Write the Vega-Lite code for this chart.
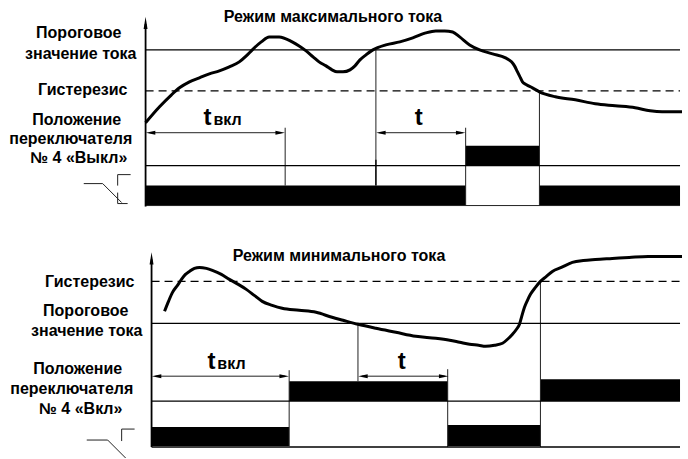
{
  "$schema": "https://vega.github.io/schema/vega-lite/v6.json",
  "width": 688,
  "height": 459,
  "autosize": {"type": "fit", "contains": "padding"},
  "padding": 0,
  "background": "white",
  "config": {"view": {"stroke": null}},
  "datasets": {
    "curve": [
      {"s":"max","t":146,"i":123},{"s":"max","t":160,"i":107},{"s":"max","t":172,"i":95},{"s":"max","t":180,"i":88},{"s":"max","t":190,"i":82},{"s":"max","t":200,"i":78},{"s":"max","t":210,"i":74},{"s":"max","t":220,"i":71},{"s":"max","t":230,"i":67},{"s":"max","t":240,"i":62},{"s":"max","t":247,"i":56},{"s":"max","t":253,"i":50},{"s":"max","t":262,"i":42},{"s":"max","t":270,"i":37},{"s":"max","t":280,"i":37},{"s":"max","t":293,"i":42},{"s":"max","t":300,"i":46},{"s":"max","t":307,"i":51},{"s":"max","t":314,"i":57},{"s":"max","t":320,"i":62},{"s":"max","t":327,"i":66},{"s":"max","t":333,"i":70},{"s":"max","t":338,"i":72},{"s":"max","t":344,"i":72},{"s":"max","t":351,"i":70},{"s":"max","t":356,"i":66},{"s":"max","t":361,"i":60},{"s":"max","t":367,"i":55},{"s":"max","t":374,"i":50},{"s":"max","t":387,"i":45},{"s":"max","t":401,"i":42},{"s":"max","t":414,"i":38},{"s":"max","t":427,"i":33},{"s":"max","t":437,"i":31},{"s":"max","t":446,"i":31},{"s":"max","t":454,"i":32},{"s":"max","t":461,"i":37},{"s":"max","t":471,"i":45},{"s":"max","t":481,"i":50},{"s":"max","t":494,"i":54},{"s":"max","t":507,"i":58},{"s":"max","t":513,"i":62},{"s":"max","t":516,"i":66},{"s":"max","t":519,"i":72},{"s":"max","t":521,"i":76},{"s":"max","t":524,"i":82},{"s":"max","t":528,"i":85},{"s":"max","t":534,"i":88},{"s":"max","t":541,"i":92},{"s":"max","t":557,"i":97},{"s":"max","t":577,"i":100},{"s":"max","t":597,"i":104},{"s":"max","t":617,"i":106},{"s":"max","t":637,"i":108},{"s":"max","t":652,"i":111},{"s":"max","t":664,"i":112},{"s":"max","t":684,"i":112},
      {"s":"min","t":165,"i":312},{"s":"min","t":169,"i":302},{"s":"min","t":173,"i":293},{"s":"min","t":178,"i":286},{"s":"min","t":182,"i":280},{"s":"min","t":186,"i":275},{"s":"min","t":190,"i":272},{"s":"min","t":195,"i":269},{"s":"min","t":200,"i":268},{"s":"min","t":207,"i":269},{"s":"min","t":213,"i":271},{"s":"min","t":222,"i":275},{"s":"min","t":230,"i":280},{"s":"min","t":239,"i":285},{"s":"min","t":247,"i":290},{"s":"min","t":255,"i":296},{"s":"min","t":263,"i":302},{"s":"min","t":273,"i":306},{"s":"min","t":283,"i":309},{"s":"min","t":300,"i":311},{"s":"min","t":317,"i":313},{"s":"min","t":333,"i":318},{"s":"min","t":344,"i":321},{"s":"min","t":359,"i":325},{"s":"min","t":377,"i":329},{"s":"min","t":397,"i":333},{"s":"min","t":417,"i":337},{"s":"min","t":437,"i":339},{"s":"min","t":451,"i":341},{"s":"min","t":461,"i":343},{"s":"min","t":471,"i":345},{"s":"min","t":480,"i":346},{"s":"min","t":487,"i":347},{"s":"min","t":496,"i":346},{"s":"min","t":504,"i":344},{"s":"min","t":509,"i":340},{"s":"min","t":514,"i":335},{"s":"min","t":518,"i":330},{"s":"min","t":521,"i":325},{"s":"min","t":523,"i":318},{"s":"min","t":526,"i":308},{"s":"min","t":529,"i":301},{"s":"min","t":532,"i":295},{"s":"min","t":537,"i":288},{"s":"min","t":542,"i":282},{"s":"min","t":548,"i":277},{"s":"min","t":554,"i":272},{"s":"min","t":563,"i":268},{"s":"min","t":574,"i":263},{"s":"min","t":585,"i":261},{"s":"min","t":597,"i":260},{"s":"min","t":614,"i":259},{"s":"min","t":631,"i":258},{"s":"min","t":650,"i":257},{"s":"min","t":684,"i":257}
    ],
    "rules": [
      {"k":"axis","t":146,"t2":146,"i":24,"i2":207},
      {"k":"level","t":146,"t2":682,"i":50,"i2":50},
      {"k":"dash","t":146,"t2":682,"i":91,"i2":91},
      {"k":"level","t":146,"t2":682,"i":166,"i2":166},
      {"k":"thin","t":146,"t2":682,"i":206,"i2":206},
      {"k":"thin","t":286,"t2":286,"i":128,"i2":186},
      {"k":"thin","t":377,"t2":377,"i":50,"i2":186},
      {"k":"level","t":377,"t2":377,"i":160,"i2":186},
      {"k":"thin","t":467,"t2":467,"i":128,"i2":206},
      {"k":"thin","t":541,"t2":541,"i":92,"i2":206},
      {"k":"thin","t":150,"t2":282,"i":133,"i2":133},
      {"k":"thin","t":380,"t2":464,"i":133,"i2":133},
      {"k":"thin","t":84,"t2":103,"i":184,"i2":184},
      {"k":"thin","t":103,"t2":122,"i":184,"i2":203},
      {"k":"thin","t":118,"t2":131,"i":175,"i2":175},
      {"k":"thin","t":118,"t2":118,"i":175,"i2":186},
      {"k":"thin","t":118,"t2":118,"i":193,"i2":204},
      {"k":"thin","t":118,"t2":128,"i":204,"i2":204},
      {"k":"axis","t":152,"t2":152,"i":260,"i2":448},
      {"k":"dash","t":152,"t2":682,"i":282,"i2":282},
      {"k":"level","t":152,"t2":682,"i":324,"i2":324},
      {"k":"level","t":152,"t2":682,"i":402,"i2":402},
      {"k":"level","t":152,"t2":682,"i":448,"i2":448},
      {"k":"thin","t":290,"t2":290,"i":371,"i2":447},
      {"k":"thin","t":359,"t2":359,"i":324,"i2":382},
      {"k":"thin","t":449,"t2":449,"i":370,"i2":448},
      {"k":"thin","t":542,"t2":542,"i":282,"i2":448},
      {"k":"thin","t":156,"t2":286,"i":377,"i2":377},
      {"k":"thin","t":363,"t2":446,"i":377,"i2":377},
      {"k":"thin","t":87,"t2":108,"i":441,"i2":441},
      {"k":"thin","t":108,"t2":126,"i":441,"i2":459},
      {"k":"thin","t":122,"t2":135,"i":430,"i2":430},
      {"k":"thin","t":122,"t2":122,"i":430,"i2":442}
    ],
    "bars": [
      {"t":146,"t2":467,"i":186,"i2":206},
      {"t":467,"t2":541,"i":146,"i2":166},
      {"t":541,"t2":682,"i":186,"i2":206},
      {"t":152,"t2":290,"i":428,"i2":447},
      {"t":290,"t2":449,"i":382,"i2":402},
      {"t":449,"t2":542,"i":426,"i2":447},
      {"t":542,"t2":682,"i":380,"i2":402}
    ],
    "heads": [
      {"d":"up","t":146,"i":23},
      {"d":"up","t":152,"i":259},
      {"d":"left","t":151,"i":133},
      {"d":"right","t":281,"i":133},
      {"d":"left","t":382,"i":133},
      {"d":"right","t":462,"i":133},
      {"d":"left","t":157,"i":377},
      {"d":"right","t":285,"i":377},
      {"d":"left","t":364,"i":377},
      {"d":"right","t":445,"i":377}
    ],
    "labels": [
      {"g":"side","txt":"Пороговое","t":79,"i":33},
      {"g":"side","txt":"значение тока","t":81,"i":54},
      {"g":"side","txt":"Гистерезис","t":83,"i":90},
      {"g":"side","txt":"Положение","t":77,"i":120},
      {"g":"side","txt":"переключателя","t":71,"i":139},
      {"g":"side","txt":"№ 4 «Выкл»","t":79,"i":158},
      {"g":"side","txt":"Гистерезис","t":90,"i":283},
      {"g":"side","txt":"Пороговое","t":86,"i":312},
      {"g":"side","txt":"значение тока","t":87,"i":332},
      {"g":"side","txt":"Положение","t":78,"i":370},
      {"g":"side","txt":"переключателя","t":72,"i":390},
      {"g":"side","txt":"№ 4  «Вкл»","t":81,"i":410},
      {"g":"title","txt":"Режим максимального тока","t":334,"i":17},
      {"g":"title","txt":"Режим минимального тока","t":340,"i":257},
      {"g":"tbig","txt":"t","t":208,"i":125},
      {"g":"tsub","txt":"вкл","t":214,"i":125},
      {"g":"tbig","txt":"t","t":420,"i":125},
      {"g":"tbig","txt":"t","t":212,"i":370},
      {"g":"tsub","txt":"вкл","t":218,"i":370},
      {"g":"tbig","txt":"t","t":403,"i":370}
    ]
  },
  "layer": [
    {
      "data": {"name": "bars"},
      "mark": {"type": "rect", "color": "black"},
      "encoding": {
        "x": {"field": "t", "type": "quantitative", "scale": {"domain": [0, 688], "nice": false, "zero": false}, "axis": null},
        "x2": {"field": "t2"},
        "y": {"field": "i", "type": "quantitative", "scale": {"domain": [0, 459], "reverse": true, "nice": false, "zero": false}, "axis": null},
        "y2": {"field": "i2"}
      }
    },
    {
      "data": {"name": "rules"},
      "transform": [{"filter": "datum.k === 'thin'"}],
      "mark": {"type": "rule", "color": "#222", "strokeWidth": 1},
      "encoding": {
        "x": {"field": "t", "type": "quantitative", "scale": {"domain": [0, 688], "nice": false, "zero": false}, "axis": null},
        "x2": {"field": "t2"},
        "y": {"field": "i", "type": "quantitative", "scale": {"domain": [0, 459], "reverse": true, "nice": false, "zero": false}, "axis": null},
        "y2": {"field": "i2"}
      }
    },
    {
      "data": {"name": "rules"},
      "transform": [{"filter": "datum.k === 'level'"}],
      "mark": {"type": "rule", "color": "black", "strokeWidth": 1.3},
      "encoding": {
        "x": {"field": "t", "type": "quantitative", "scale": {"domain": [0, 688], "nice": false, "zero": false}, "axis": null},
        "x2": {"field": "t2"},
        "y": {"field": "i", "type": "quantitative", "scale": {"domain": [0, 459], "reverse": true, "nice": false, "zero": false}, "axis": null},
        "y2": {"field": "i2"}
      }
    },
    {
      "data": {"name": "rules"},
      "transform": [{"filter": "datum.k === 'dash'"}],
      "mark": {"type": "rule", "color": "black", "strokeWidth": 1.3, "strokeDash": [8, 5]},
      "encoding": {
        "x": {"field": "t", "type": "quantitative", "scale": {"domain": [0, 688], "nice": false, "zero": false}, "axis": null},
        "x2": {"field": "t2"},
        "y": {"field": "i", "type": "quantitative", "scale": {"domain": [0, 459], "reverse": true, "nice": false, "zero": false}, "axis": null},
        "y2": {"field": "i2"}
      }
    },
    {
      "data": {"name": "rules"},
      "transform": [{"filter": "datum.k === 'axis'"}],
      "mark": {"type": "rule", "color": "black", "strokeWidth": 1.8},
      "encoding": {
        "x": {"field": "t", "type": "quantitative", "scale": {"domain": [0, 688], "nice": false, "zero": false}, "axis": null},
        "x2": {"field": "t2"},
        "y": {"field": "i", "type": "quantitative", "scale": {"domain": [0, 459], "reverse": true, "nice": false, "zero": false}, "axis": null},
        "y2": {"field": "i2"}
      }
    },
    {
      "data": {"name": "curve"},
      "mark": {"type": "line", "color": "black", "strokeWidth": 3, "interpolate": "monotone"},
      "encoding": {
        "x": {"field": "t", "type": "quantitative", "scale": {"domain": [0, 688], "nice": false, "zero": false}, "axis": null},
        "y": {"field": "i", "type": "quantitative", "scale": {"domain": [0, 459], "reverse": true, "nice": false, "zero": false}, "axis": null},
        "detail": {"field": "s"}
      }
    },
    {
      "data": {"name": "heads"},
      "transform": [{"filter": "datum.d === 'up'"}],
      "mark": {"type": "point", "filled": true, "color": "black", "opacity": 1, "size": 150, "shape": "M0,-1L0.32,1L-0.32,1Z"},
      "encoding": {
        "x": {"field": "t", "type": "quantitative", "scale": {"domain": [0, 688], "nice": false, "zero": false}, "axis": null},
        "y": {"field": "i", "type": "quantitative", "scale": {"domain": [0, 459], "reverse": true, "nice": false, "zero": false}, "axis": null}
      }
    },
    {
      "data": {"name": "heads"},
      "transform": [{"filter": "datum.d === 'right'"}],
      "mark": {"type": "point", "filled": true, "color": "black", "opacity": 1, "size": 90, "shape": "M1,0L-1,-0.42L-1,0.42Z"},
      "encoding": {
        "x": {"field": "t", "type": "quantitative", "scale": {"domain": [0, 688], "nice": false, "zero": false}, "axis": null},
        "y": {"field": "i", "type": "quantitative", "scale": {"domain": [0, 459], "reverse": true, "nice": false, "zero": false}, "axis": null}
      }
    },
    {
      "data": {"name": "heads"},
      "transform": [{"filter": "datum.d === 'left'"}],
      "mark": {"type": "point", "filled": true, "color": "black", "opacity": 1, "size": 90, "shape": "M-1,0L1,-0.42L1,0.42Z"},
      "encoding": {
        "x": {"field": "t", "type": "quantitative", "scale": {"domain": [0, 688], "nice": false, "zero": false}, "axis": null},
        "y": {"field": "i", "type": "quantitative", "scale": {"domain": [0, 459], "reverse": true, "nice": false, "zero": false}, "axis": null}
      }
    },
    {
      "data": {"name": "labels"},
      "transform": [{"filter": "datum.g === 'side'"}],
      "mark": {"type": "text", "font": "Liberation Sans", "fontWeight": "bold", "fontSize": 16, "align": "center", "baseline": "middle", "color": "black"},
      "encoding": {
        "x": {"field": "t", "type": "quantitative", "scale": {"domain": [0, 688], "nice": false, "zero": false}, "axis": null},
        "y": {"field": "i", "type": "quantitative", "scale": {"domain": [0, 459], "reverse": true, "nice": false, "zero": false}, "axis": null},
        "text": {"field": "txt"}
      }
    },
    {
      "data": {"name": "labels"},
      "transform": [{"filter": "datum.g === 'title'"}],
      "mark": {"type": "text", "font": "Liberation Sans", "fontWeight": "bold", "fontSize": 16, "align": "center", "baseline": "middle", "color": "black"},
      "encoding": {
        "x": {"field": "t", "type": "quantitative", "scale": {"domain": [0, 688], "nice": false, "zero": false}, "axis": null},
        "y": {"field": "i", "type": "quantitative", "scale": {"domain": [0, 459], "reverse": true, "nice": false, "zero": false}, "axis": null},
        "text": {"field": "txt"}
      }
    },
    {
      "data": {"name": "labels"},
      "transform": [{"filter": "datum.g === 'tbig'"}],
      "mark": {"type": "text", "font": "Liberation Sans", "fontWeight": "bold", "fontSize": 24, "align": "center", "baseline": "alphabetic", "color": "black"},
      "encoding": {
        "x": {"field": "t", "type": "quantitative", "scale": {"domain": [0, 688], "nice": false, "zero": false}, "axis": null},
        "y": {"field": "i", "type": "quantitative", "scale": {"domain": [0, 459], "reverse": true, "nice": false, "zero": false}, "axis": null},
        "text": {"field": "txt"}
      }
    },
    {
      "data": {"name": "labels"},
      "transform": [{"filter": "datum.g === 'tsub'"}],
      "mark": {"type": "text", "font": "Liberation Sans", "fontWeight": "bold", "fontSize": 16, "align": "left", "baseline": "alphabetic", "color": "black"},
      "encoding": {
        "x": {"field": "t", "type": "quantitative", "scale": {"domain": [0, 688], "nice": false, "zero": false}, "axis": null},
        "y": {"field": "i", "type": "quantitative", "scale": {"domain": [0, 459], "reverse": true, "nice": false, "zero": false}, "axis": null},
        "text": {"field": "txt"}
      }
    }
  ]
}
